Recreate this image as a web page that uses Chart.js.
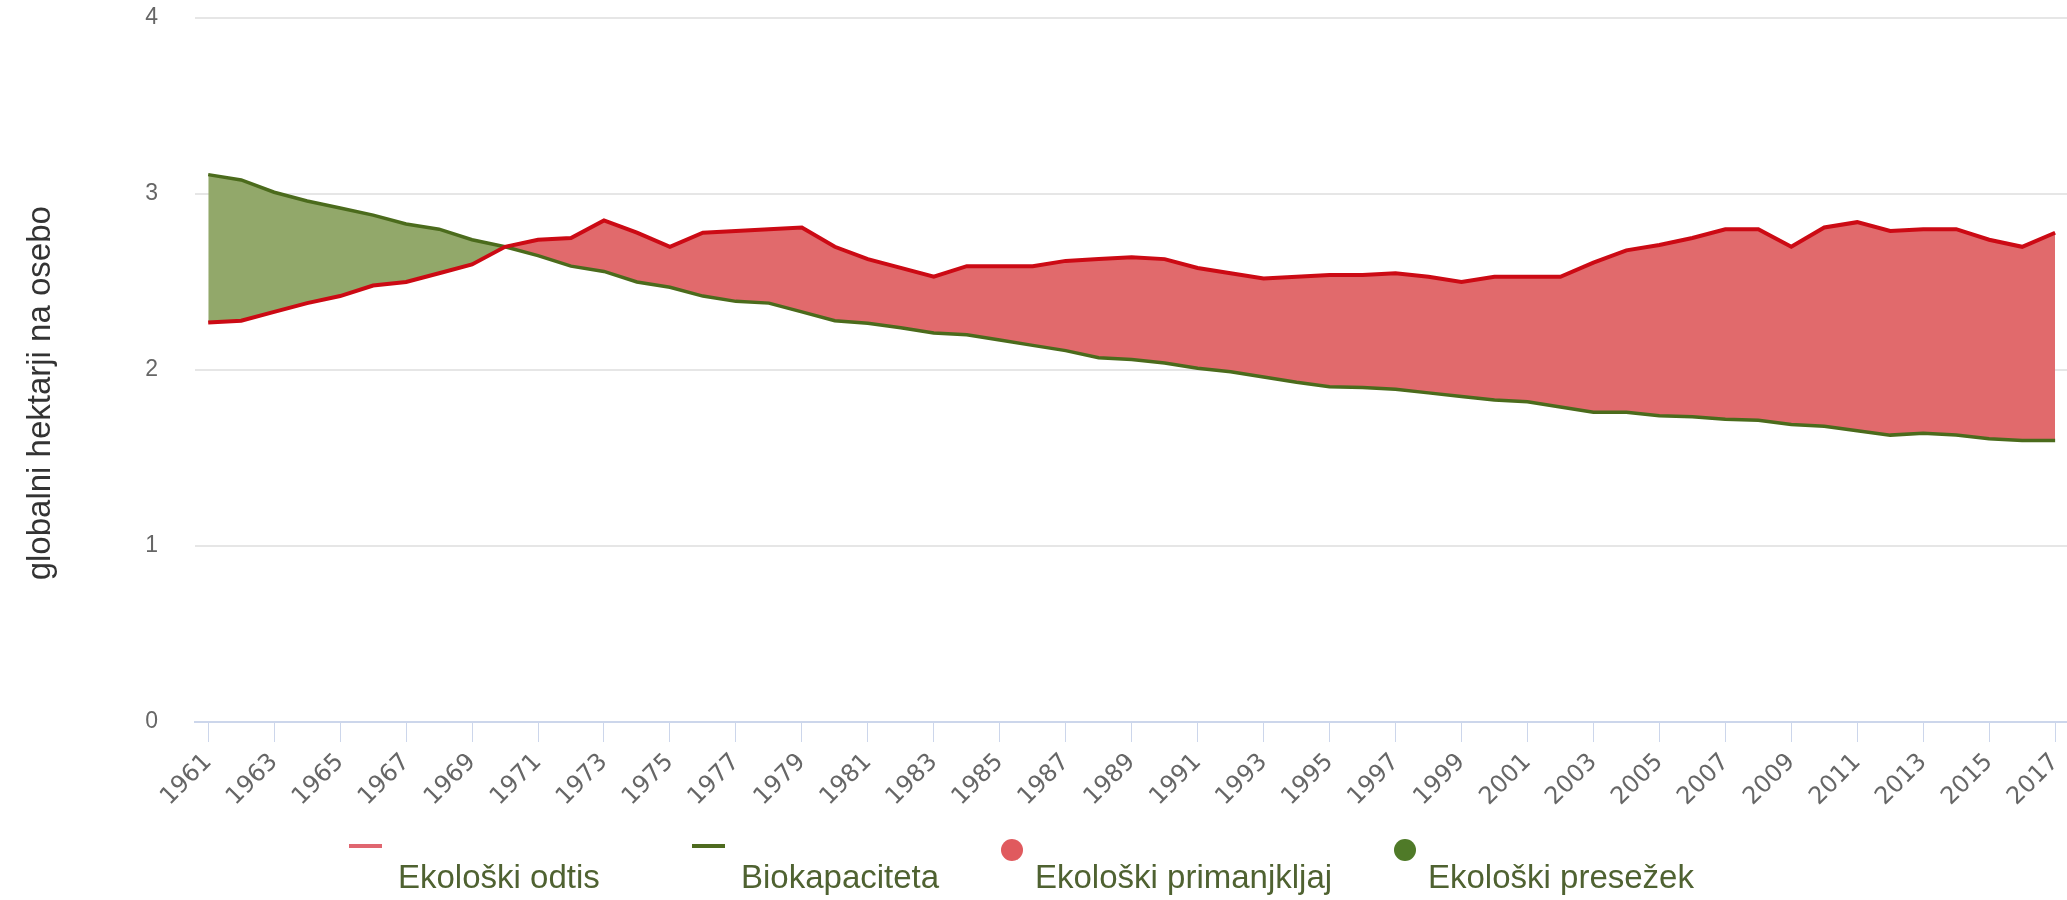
<!DOCTYPE html>
<html>
<head>
<meta charset="utf-8">
<script src="https://cdn.jsdelivr.net/npm/chart.js@4.4.1/dist/chart.umd.min.js"></script>
<style>
  html, body { margin: 0; padding: 0; background: #fff; }
  #wrap { position: relative; width: 2067px; height: 900px; }
  #legend { position: absolute; left: 0; top: 0; width: 100%; height: 100%; pointer-events: none;
            font-family: 'Liberation Sans', Arial, sans-serif; }
  .sym-line { position: absolute; width: 33px; height: 4px; }
  .sym-dot { position: absolute; width: 22px; height: 22px; border-radius: 50%; }
  .txt { position: absolute; white-space: nowrap; font-size: 33px; line-height: 34px; color: #4f6231; }
</style>
</head>
<body>
<div id="wrap">
  <canvas id="chart" width="2067" height="900"></canvas>
  <div id="legend"></div>
</div>
<script>
const years = [1961, 1962, 1963, 1964, 1965, 1966, 1967, 1968, 1969, 1970,
  1971, 1972, 1973, 1974, 1975, 1976, 1977, 1978, 1979, 1980,
  1981, 1982, 1983, 1984, 1985, 1986, 1987, 1988, 1989, 1990,
  1991, 1992, 1993, 1994, 1995, 1996, 1997, 1998, 1999, 2000,
  2001, 2002, 2003, 2004, 2005, 2006, 2007, 2008, 2009, 2010,
  2011, 2012, 2013, 2014, 2015, 2016, 2017];

// Ekološki odtis (gha na osebo)
const footprint = [2.27, 2.28, 2.33, 2.38, 2.42, 2.48, 2.50, 2.55, 2.60, 2.70,
  2.74, 2.75, 2.85, 2.78, 2.70, 2.78, 2.79, 2.80, 2.81, 2.70,
  2.63, 2.58, 2.53, 2.59, 2.59, 2.59, 2.62, 2.63, 2.64, 2.63,
  2.58, 2.55, 2.52, 2.53, 2.54, 2.54, 2.55, 2.53, 2.50, 2.53,
  2.53, 2.53, 2.61, 2.68, 2.71, 2.75, 2.80, 2.80, 2.70, 2.81,
  2.84, 2.79, 2.80, 2.80, 2.74, 2.70, 2.78];

// Biokapaciteta (gha na osebo)
const biocapacity = [3.11, 3.08, 3.01, 2.96, 2.92, 2.88, 2.83, 2.80, 2.74, 2.70,
  2.65, 2.59, 2.56, 2.50, 2.47, 2.42, 2.39, 2.38, 2.33, 2.28,
  2.265, 2.24, 2.21, 2.20, 2.17, 2.14, 2.11, 2.07, 2.06, 2.04,
  2.01, 1.99, 1.96, 1.93, 1.905, 1.90, 1.89, 1.87, 1.85, 1.83,
  1.82, 1.79, 1.76, 1.76, 1.74, 1.735, 1.72, 1.715, 1.69, 1.68,
  1.655, 1.63, 1.64, 1.63, 1.61, 1.60, 1.60];

const tickYears = years.filter((y, i) => i % 2 === 0);
const yTicks = [0, 1, 2, 3, 4];
const yTitle = 'globalni hektarji na osebo';

const legendItems = [
  { label: 'Ekološki odtis', kind: 'line', color: '#e06670', symX: 349, textX: 398 },
  { label: 'Biokapaciteta', kind: 'line', color: '#4e6b1f', symX: 692, textX: 741 },
  { label: 'Ekološki primanjkljaj', kind: 'dot', color: '#e05a5e', symX: 1001, textX: 1035 },
  { label: 'Ekološki presežek', kind: 'dot', color: '#4f7a28', symX: 1394, textX: 1428 },
];

const toPoints = (vals) => years.map((yr, i) => ({ x: yr, y: vals[i] }));

// naslov osi y je v izvirniku nekoliko pod sredino grafa
const yTitlePlugin = {
  id: 'yTitle',
  afterDraw(chart) {
    const ctx = chart.ctx;
    ctx.save();
    ctx.translate(41, chart.chartArea.top + chart.chartArea.height * 0.533);
    ctx.rotate(-Math.PI / 2);
    ctx.font = '33px "Liberation Sans", Arial, sans-serif';
    ctx.fillStyle = '#333';
    ctx.textAlign = 'center';
    ctx.textBaseline = 'middle';
    ctx.fillText(yTitle, 0, 0);
    ctx.restore();
  },
};

new Chart(document.getElementById('chart'), {
  type: 'line',
  data: {
    datasets: [
      {
        label: 'Ekološki odtis',
        data: toPoints(footprint),
        borderColor: '#cc0a14',
        borderWidth: 4,
        pointRadius: 0,
        tension: 0,
        fill: { target: 1, above: '#e16a6c', below: '#92a86a' },
      },
      {
        label: 'Biokapaciteta',
        data: toPoints(biocapacity),
        borderColor: '#4b6b1c',
        borderWidth: 3.5,
        pointRadius: 0,
        tension: 0,
        fill: false,
      },
    ],
  },
  options: {
    responsive: false,
    devicePixelRatio: 1,
    animation: false,
    layout: { padding: { top: 18, right: 0, bottom: 0, left: 0 } },
    plugins: {
      legend: { display: false },
      tooltip: { enabled: false },
      filler: { drawTime: 'beforeDatasetsDraw' },
    },
    scales: {
      x: {
        type: 'linear',
        min: 1960.6,
        max: 2017.36,
        afterBuildTicks: (s) => { s.ticks = tickYears.map(v => ({ value: v })); },
        afterFit: (s) => { s.height = 178; s.paddingLeft = 0; s.paddingRight = 0; },
        ticks: {
          autoSkip: false,
          minRotation: 45,
          maxRotation: 45,
          padding: 6,
          color: '#666',
          font: { family: 'DejaVu Sans', size: 24 },
          callback: (v) => String(v),
        },
        grid: { drawOnChartArea: false, drawTicks: true, tickLength: 20, color: '#ccd6eb', lineWidth: 1 },
        border: { display: true, color: '#ccd6eb', width: 2 },
      },
      y: {
        min: 0,
        max: 4,
        afterBuildTicks: (s) => { s.ticks = yTicks.map(v => ({ value: v })); },
        afterFit: (s) => { s.width = 195; s.paddingTop = 0; s.paddingBottom = 0; },
        ticks: {
          padding: 37,
          color: '#666',
          font: { family: 'Liberation Sans', size: 23 },
        },
        grid: {
          color: (c) => (c.tick && c.tick.value === 0 ? 'rgba(0,0,0,0)' : '#e6e6e6'),
          lineWidth: 2,
          drawTicks: false,
        },
        border: { display: false },
      },
    },
  },
  plugins: [yTitlePlugin],
});

// legenda: simbol nad besedilom, kot v izvirniku
const legendEl = document.getElementById('legend');
legendItems.forEach((it) => {
  const sym = document.createElement('div');
  sym.className = it.kind === 'line' ? 'sym-line' : 'sym-dot';
  sym.style.background = it.color;
  sym.style.left = it.symX + 'px';
  sym.style.top = (it.kind === 'line' ? 844 : 839) + 'px';
  legendEl.appendChild(sym);

  const txt = document.createElement('div');
  txt.className = 'txt';
  txt.textContent = it.label;
  txt.style.left = it.textX + 'px';
  txt.style.top = '860px';
  legendEl.appendChild(txt);
});
</script>
</body>
</html>
